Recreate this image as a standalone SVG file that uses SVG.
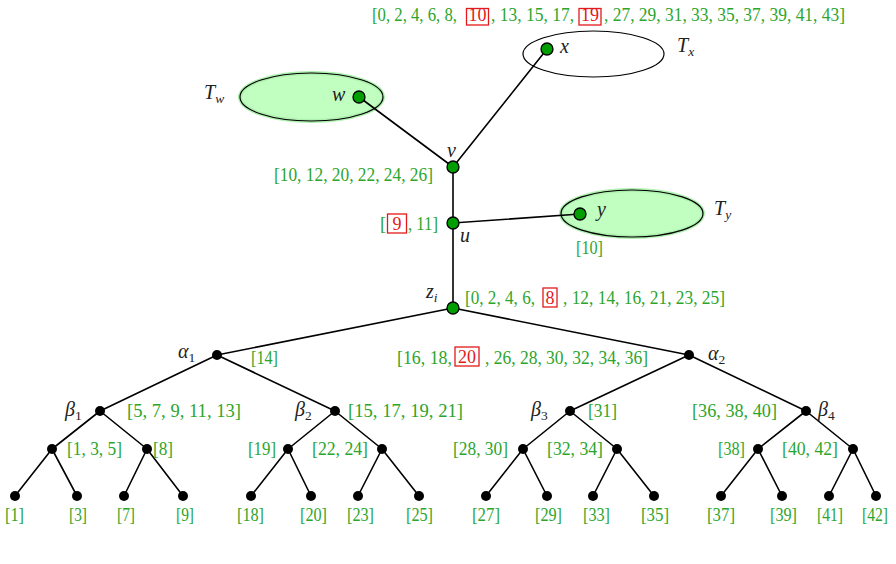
<svg xmlns="http://www.w3.org/2000/svg" width="896" height="564" viewBox="0 0 896 564">
<style>
.g{fill:#2ca52c;font-family:"Liberation Serif",serif;font-size:18.5px}
.r{fill:#e31a1a;font-family:"Liberation Serif",serif;font-size:18px;text-anchor:middle}
.rb{fill:none;stroke:#e31a1a;stroke-width:1.3}
.m{fill:#222;font-family:"Liberation Serif",serif;font-size:20px;font-style:italic}
.s{font-size:13.5px}
.lf{text-anchor:middle}
.gn{fill:#009e00;stroke:#000;stroke-width:1.3}
.bn{fill:#000}
.e{stroke:#000;stroke-width:1.6;fill:none}
.halo{fill:#c0ffc0;stroke:#aef0ae;stroke-width:4}
.el{fill:none;stroke:#000;stroke-width:1.2}
</style>
<rect width="896" height="564" fill="#fff"/>
<g id="subtrees">
<g id="Tx"><ellipse cx="593.5" cy="54" rx="70.5" ry="23" class="el"/><text class="m" x="677" y="52">T<tspan class="s" dy="4">x</tspan></text></g>
<g id="Tw"><ellipse cx="311.5" cy="97" rx="71.5" ry="24" class="halo"/><ellipse cx="311.5" cy="97" rx="71.5" ry="24" class="el"/><text class="m" x="204" y="99">T<tspan class="s" dy="4">w</tspan></text></g>
<g id="Ty"><ellipse cx="632" cy="213.5" rx="71" ry="23.5" class="halo"/><ellipse cx="632" cy="213.5" rx="71" ry="23.5" class="el"/><text class="m" x="714" y="215">T<tspan class="s" dy="4">y</tspan></text></g>
</g>
<g id="connectors">
<path class="e" d="M359 97L453 167M547 49L453 167M453 167V223L580 214M453 223V308"/>
<path class="e" d="M453 308L217 355M453 308L689 355M217 355L100 411M217 355L335 411M689 355L570 411M689 355L806 411"/>
<path class="e" d="M100 411L52 449M100 411L147 449M335 411L288 449M335 411L382 449M570 411L523 449M570 411L617 449M806 411L758 449M806 411L853 449"/>
<path class="e" d="M52 449L15 496M52 449L77 496M147 449L124 496M147 449L183 496M288 449L251 496M288 449L311 496M382 449L358 496M382 449L419 496M523 449L486 496M523 449L547 496M617 449L593 496M617 449L654 496M758 449L721 496M758 449L782 496M853 449L829 496M853 449L876 496"/>
</g>
<g id="x"><circle cx="547" cy="49" r="6" class="gn"/><text class="m" x="560" y="53">x</text>
<text class="g" x="372" y="21" textLength="85" lengthAdjust="spacingAndGlyphs">[0, 2, 4, 6, 8,</text>
<rect class="rb" x="466.5" y="8.5" width="22" height="16.5"/><text class="r" x="477.5" y="21">10</text>
<text class="g" x="491" y="21" textLength="83" lengthAdjust="spacingAndGlyphs">, 13, 15, 17,</text>
<rect class="rb" x="579" y="8.5" width="22" height="16.5"/><text class="r" x="590" y="21">19</text>
<text class="g" x="604" y="21" textLength="241" lengthAdjust="spacingAndGlyphs">, 27, 29, 31, 33, 35, 37, 39, 41, 43]</text></g>
<g id="w"><circle cx="359" cy="97" r="6" class="gn"/><text class="m" x="332" y="101">w</text></g>
<g id="v"><circle cx="453" cy="167" r="6" class="gn"/><text class="m" x="447" y="157">v</text>
<text class="g" x="274" y="181" textLength="159" lengthAdjust="spacingAndGlyphs">[10, 12, 20, 22, 24, 26]</text></g>
<g id="u"><circle cx="453" cy="223" r="6" class="gn"/><text class="m" x="460" y="242">u</text>
<text class="g" x="380" y="230">[</text><rect class="rb" x="387.5" y="214" width="19" height="19"/><text class="r" x="397" y="230">9</text>
<text class="g" x="408" y="230" textLength="30" lengthAdjust="spacingAndGlyphs">, 11]</text></g>
<g id="y"><circle cx="580" cy="214" r="6" class="gn"/><text class="m" x="597" y="216">y</text>
<text class="g" x="576" y="254" textLength="27" lengthAdjust="spacingAndGlyphs">[10]</text></g>
<g id="zi"><circle cx="453" cy="308" r="6" class="gn"/><text class="m" x="426" y="298">z<tspan class="s" dy="4">i</tspan></text>
<text class="g" x="465" y="304" textLength="70" lengthAdjust="spacingAndGlyphs">[0, 2, 4, 6,</text>
<rect class="rb" x="543" y="288" width="14" height="19"/><text class="r" x="550" y="304">8</text>
<text class="g" x="563" y="304" textLength="162" lengthAdjust="spacingAndGlyphs">, 12, 14, 16, 21, 23, 25]</text></g>
<g id="alpha1"><circle cx="217" cy="355" r="5" class="bn"/><text class="m" x="178" y="358">α<tspan class="s" dy="4" font-style="normal">1</tspan></text>
<text class="g" x="251" y="364" textLength="27" lengthAdjust="spacingAndGlyphs">[14]</text></g>
<g id="alpha2"><circle cx="689" cy="355" r="5" class="bn"/><text class="m" x="708" y="360">α<tspan class="s" dy="4" font-style="normal">2</tspan></text>
<text class="g" x="397" y="364" textLength="55" lengthAdjust="spacingAndGlyphs">[16, 18,</text>
<rect class="rb" x="455" y="347" width="24" height="19"/><text class="r" x="467" y="363">20</text>
<text class="g" x="485" y="364" textLength="163" lengthAdjust="spacingAndGlyphs">, 26, 28, 30, 32, 34, 36]</text></g>
<g id="beta1"><circle cx="100" cy="411" r="5" class="bn"/><text class="m" x="65" y="416">β<tspan class="s" dy="4" font-style="normal">1</tspan></text>
<text class="g" x="127" y="417" textLength="114" lengthAdjust="spacingAndGlyphs">[5, 7, 9, 11, 13]</text></g>
<g id="beta2"><circle cx="335" cy="411" r="5" class="bn"/><text class="m" x="295" y="416">β<tspan class="s" dy="4" font-style="normal">2</tspan></text>
<text class="g" x="348" y="417" textLength="115" lengthAdjust="spacingAndGlyphs">[15, 17, 19, 21]</text></g>
<g id="beta3"><circle cx="570" cy="411" r="5" class="bn"/><text class="m" x="531" y="416">β<tspan class="s" dy="4" font-style="normal">3</tspan></text>
<text class="g" x="588" y="417" textLength="29" lengthAdjust="spacingAndGlyphs">[31]</text></g>
<g id="beta4"><circle cx="806" cy="411" r="5" class="bn"/><text class="m" x="818" y="416">β<tspan class="s" dy="4" font-style="normal">4</tspan></text>
<text class="g" x="692" y="417" textLength="85" lengthAdjust="spacingAndGlyphs">[36, 38, 40]</text></g>
<g id="n11"><circle cx="52" cy="449" r="5" class="bn"/><text class="g" x="67" y="455" textLength="55" lengthAdjust="spacingAndGlyphs">[1, 3, 5]</text></g>
<g id="n12"><circle cx="147" cy="449" r="5" class="bn"/><text class="g" x="153" y="455" textLength="20" lengthAdjust="spacingAndGlyphs">[8]</text></g>
<g id="n21"><circle cx="288" cy="449" r="5" class="bn"/><text class="g" x="248" y="455" textLength="28" lengthAdjust="spacingAndGlyphs">[19]</text></g>
<g id="n22"><circle cx="382" cy="449" r="5" class="bn"/><text class="g" x="312" y="455" textLength="56" lengthAdjust="spacingAndGlyphs">[22, 24]</text></g>
<g id="n31"><circle cx="523" cy="449" r="5" class="bn"/><text class="g" x="453" y="455" textLength="55" lengthAdjust="spacingAndGlyphs">[28, 30]</text></g>
<g id="n32"><circle cx="617" cy="449" r="5" class="bn"/><text class="g" x="547" y="455" textLength="56" lengthAdjust="spacingAndGlyphs">[32, 34]</text></g>
<g id="n41"><circle cx="758" cy="449" r="5" class="bn"/><text class="g" x="718" y="455" textLength="27" lengthAdjust="spacingAndGlyphs">[38]</text></g>
<g id="n42"><circle cx="853" cy="449" r="5" class="bn"/><text class="g" x="782" y="455" textLength="56" lengthAdjust="spacingAndGlyphs">[40, 42]</text></g>
<g id="leaves">
<g id="l1"><circle cx="15" cy="496" r="5" class="bn"/><text class="g" x="5" y="521" textLength="19" lengthAdjust="spacingAndGlyphs">[1]</text></g>
<g id="l3"><circle cx="77" cy="496" r="5" class="bn"/><text class="g" x="69" y="521" textLength="18" lengthAdjust="spacingAndGlyphs">[3]</text></g>
<g id="l7"><circle cx="124" cy="496" r="5" class="bn"/><text class="g" x="117" y="521" textLength="18" lengthAdjust="spacingAndGlyphs">[7]</text></g>
<g id="l9"><circle cx="183" cy="496" r="5" class="bn"/><text class="g" x="176" y="521" textLength="18" lengthAdjust="spacingAndGlyphs">[9]</text></g>
<g id="l18"><circle cx="251" cy="496" r="5" class="bn"/><text class="g" x="237" y="521" textLength="27" lengthAdjust="spacingAndGlyphs">[18]</text></g>
<g id="l20"><circle cx="311" cy="496" r="5" class="bn"/><text class="g" x="300" y="521" textLength="27" lengthAdjust="spacingAndGlyphs">[20]</text></g>
<g id="l23"><circle cx="358" cy="496" r="5" class="bn"/><text class="g" x="347" y="521" textLength="27" lengthAdjust="spacingAndGlyphs">[23]</text></g>
<g id="l25"><circle cx="419" cy="496" r="5" class="bn"/><text class="g" x="406" y="521" textLength="27" lengthAdjust="spacingAndGlyphs">[25]</text></g>
<g id="l27"><circle cx="486" cy="496" r="5" class="bn"/><text class="g" x="472" y="521" textLength="28" lengthAdjust="spacingAndGlyphs">[27]</text></g>
<g id="l29"><circle cx="547" cy="496" r="5" class="bn"/><text class="g" x="535" y="521" textLength="27" lengthAdjust="spacingAndGlyphs">[29]</text></g>
<g id="l33"><circle cx="593" cy="496" r="5" class="bn"/><text class="g" x="583" y="521" textLength="27" lengthAdjust="spacingAndGlyphs">[33]</text></g>
<g id="l35"><circle cx="654" cy="496" r="5" class="bn"/><text class="g" x="641" y="521" textLength="28" lengthAdjust="spacingAndGlyphs">[35]</text></g>
<g id="l37"><circle cx="721" cy="496" r="5" class="bn"/><text class="g" x="707" y="521" textLength="28" lengthAdjust="spacingAndGlyphs">[37]</text></g>
<g id="l39"><circle cx="782" cy="496" r="5" class="bn"/><text class="g" x="770" y="521" textLength="27" lengthAdjust="spacingAndGlyphs">[39]</text></g>
<g id="l41"><circle cx="829" cy="496" r="5" class="bn"/><text class="g" x="817" y="521" textLength="26" lengthAdjust="spacingAndGlyphs">[41]</text></g>
<g id="l42"><circle cx="876" cy="496" r="5" class="bn"/><text class="g" x="862" y="521" textLength="26" lengthAdjust="spacingAndGlyphs">[42]</text></g>
</g>
</svg>
